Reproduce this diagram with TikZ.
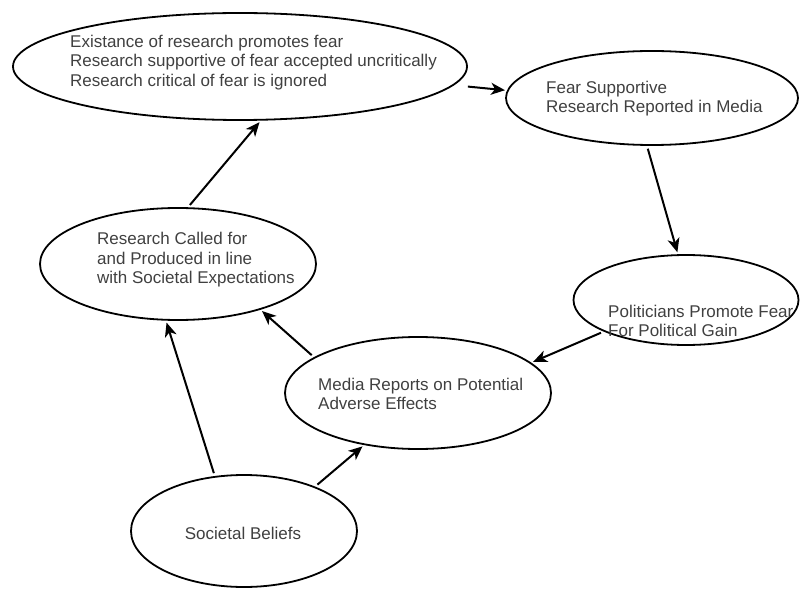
\documentclass[tikz,border=0pt]{standalone}
\usepackage{fontspec}
\setmainfont{Liberation Sans}
\usetikzlibrary{shapes.geometric, arrows.meta}

\tikzset{
    bubble/.style={draw, ellipse, line width=1.8pt, inner sep=0pt},
    caption/.style={anchor=west, align=left, inner sep=0pt, text=black!75,
        font=\fontsize{17}{19.5}\selectfont},
    arr/.style={-{Stealth[length=14pt, width=12pt, inset=4pt]}, line width=2pt,
        shorten <=3pt, shorten >=2pt}
}

\begin{document}
\begin{tikzpicture}[x=1pt, y=1pt]
    \clip (0,0) rectangle (800,590);

    % Ellipses
    \node[bubble, minimum width=454pt, minimum height=107pt] (top) at (240,523.5) {};
    \node[bubble, minimum width=292pt, minimum height=94pt] (fear) at (652,492) {};
    \node[bubble, minimum width=225pt, minimum height=90pt] (pol) at (686,290) {};
    \node[bubble, minimum width=276pt, minimum height=112pt] (rc) at (178,326) {};
    \node[bubble, minimum width=266pt, minimum height=112pt] (media) at (418,197) {};
    \node[bubble, minimum width=226pt, minimum height=112pt] (soc) at (244,59) {};

    % Texts
    \node[caption] (topText) at (70,527.5) {Existance of research promotes fear\\
        Research supportive of fear accepted uncritically\\
        Research critical of fear is ignored};
    \node[caption] (fearText) at (546,491.5) {Fear Supportive\\
        Research Reported in Media};
    \node[caption] (polText) at (608,269) {Politicians Promote Fear\\
        For Political Gain};
    \node[caption] (rcText) at (97,330) {Research Called for\\
        and Produced in line\\
        with Societal Expectations};
    \node[caption] (mediaText) at (318,196) {Media Reports on Potential\\
        Adverse Effects};
    \node[caption, anchor=center] (socText) at (243,57) {Societal Beliefs};

    % Cycle
    \draw[arr] (rc.80) -- (top.291);
    \draw[arr, shorten <=14pt] (top.355) -- (fear.177);
    \draw[arr] (fear.264) -- (pol.100);
    \draw[arr] (pol.201) -- (media.15);
    \draw[arr] (media.161) -- (rc.331);

    % From societal beliefs
    \draw[arr] (soc.118) -- (rc.258);
    \draw[arr] (soc.32) -- (media.224);
\end{tikzpicture}
\end{document}
